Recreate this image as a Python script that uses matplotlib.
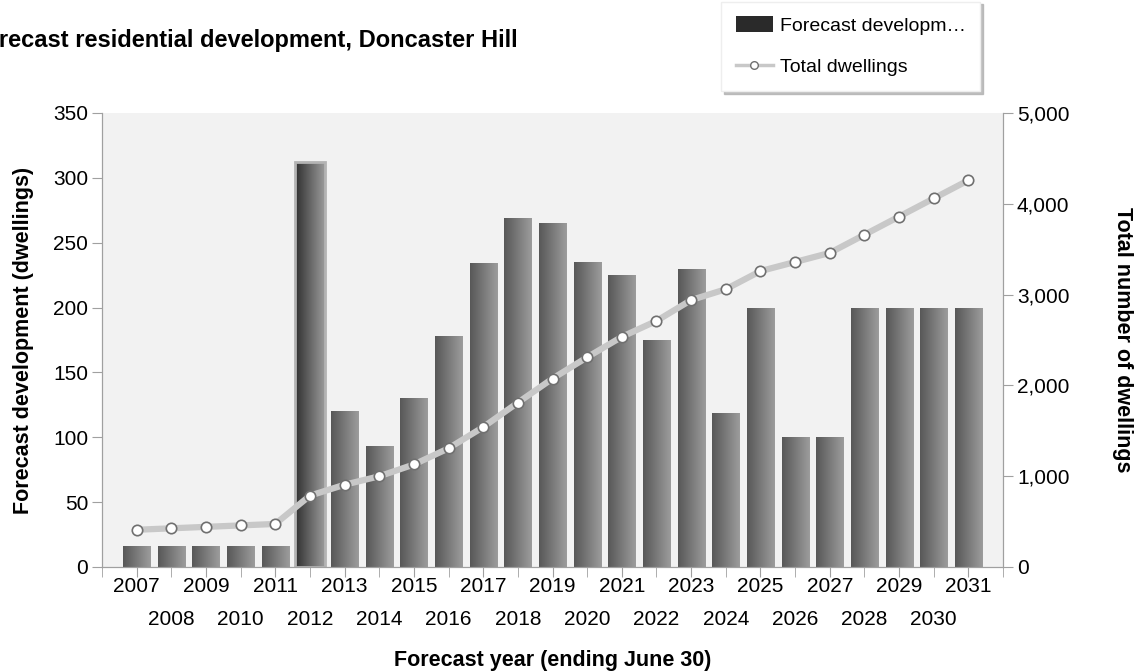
import matplotlib
matplotlib.use("Agg")
import matplotlib.pyplot as plt
import numpy as np
from matplotlib.lines import Line2D
from matplotlib.patches import Patch
from matplotlib.ticker import FuncFormatter
from matplotlib.colors import LinearSegmentedColormap

plt.rcParams['font.family'] = ['Liberation Sans', 'DejaVu Sans']

# Dados
years = list(range(2007, 2032))
development = [16, 16, 16, 16, 16, 312, 120, 93, 130, 178, 234, 269, 265,
               235, 225, 175, 230, 119, 200, 100, 100, 200, 200, 200, 200]
total_dwellings = [410, 426, 442, 458, 474, 786, 906, 999, 1129, 1307, 1541,
                   1810, 2075, 2310, 2535, 2710, 2940, 3059, 3259, 3359, 3459,
                   3659, 3859, 4059, 4259]
highlight_year = 2012

fig = plt.figure(figsize=(11.35, 6.71), dpi=100)
ax = fig.add_axes([0.0899, 0.155, 0.7938, 0.6766])
ax.set_facecolor('#f2f2f2')

x = np.arange(len(years))
bars = ax.bar(x, development, width=0.78, color='none', edgecolor='none', zorder=2)

# gradiente horizontal nas barras
grad = np.linspace(0, 1, 64).reshape(1, -1)
cmap_norm = LinearSegmentedColormap.from_list('g1', ['#585858', '#9c9c9c'])
cmap_hi = LinearSegmentedColormap.from_list('g2', ['#303030', '#9a9a9a'])

for xi, yr, b in zip(x, years, bars):
    h = b.get_height()
    if yr == highlight_year:
        b.set_width(0.86)
        b.set_x(xi - 0.43)
        b.set_edgecolor('#b4b4b4')
        b.set_linewidth(2)
        cm = cmap_hi
    else:
        cm = cmap_norm
    x0 = b.get_x()
    im = ax.imshow(grad, extent=[x0, x0 + b.get_width(), 0, h], aspect='auto',
                   cmap=cm, zorder=1.5, interpolation='bilinear')
    im.set_clip_path(b)

ax.set_xlim(-1, len(years))
ax.set_ylim(0, 350)
ax.set_yticks(range(0, 351, 50))

# rótulos alternados em duas linhas
even_idx = [i for i in x if i % 2 == 0]
odd_idx = [i for i in x if i % 2 == 1]
ax.set_xticks(even_idx)
ax.set_xticklabels([str(years[i]) for i in even_idx])
ax.set_xticks(odd_idx + [-1, len(years)], minor=True)
ax.set_xticklabels([str(years[i]) for i in odd_idx] + ['', ''], minor=True)

ax.spines['top'].set_visible(False)
for s in ['left', 'bottom', 'right']:
    ax.spines[s].set_color('#a0a0a0')

ax.tick_params(axis='both', which='both', colors='#a0a0a0', labelcolor='black',
               labelsize=15, length=7, direction='out')
ax.tick_params(axis='x', which='major', pad=0)
ax.tick_params(axis='x', which='minor', pad=24)
ax.tick_params(axis='y', pad=3)
ax.set_ylabel('Forecast development (dwellings)', fontsize=15.5, fontweight='bold', labelpad=14)
ax.set_xlabel('Forecast year (ending June 30)', fontsize=15.5, fontweight='bold', labelpad=15)

ax2 = ax.twinx()
ax2.plot(x, total_dwellings, color='#c8c8c8', linewidth=4.5, marker='o',
         markersize=7.5, markerfacecolor='white', markeredgecolor='#707070',
         markeredgewidth=1.2, zorder=3)
ax2.set_ylim(0, 5000)
ax2.set_yticks(range(0, 5001, 1000))
ax2.yaxis.set_major_formatter(FuncFormatter(lambda v, p: f'{int(v):,}'))
ax2.spines['top'].set_visible(False)
for s in ['left', 'bottom', 'right']:
    ax2.spines[s].set_color('#a0a0a0')
ax2.tick_params(axis='y', colors='#a0a0a0', labelcolor='black', labelsize=15, length=7, pad=3)
ax2.set_ylabel('Total number of dwellings', fontsize=15.5, fontweight='bold',
               rotation=-90, labelpad=46)

# Título (cortado à esquerda como no original)
fig.text(-0.026, 0.94, 'Forecast residential development, Doncaster Hill',
         fontsize=17, fontweight='bold', ha='left', va='center')

handles = [Patch(facecolor='#2a2a2a', edgecolor='none'),
           Line2D([0], [0], color='#c8c8c8', linewidth=2.5, marker='o', markersize=5.5,
                  markerfacecolor='white', markeredgecolor='#707070')]
leg = fig.legend(handles, ['Forecast developm\u2026', 'Total dwellings'],
                 loc='upper left', bbox_to_anchor=(0.627, 1.012), frameon=True,
                 fancybox=False, shadow={'color': '#b0b0b0', 'alpha': 0.8},
                 fontsize=14, handlelength=1.9, handleheight=0.9,
                 borderpad=0.75, labelspacing=1.15, handletextpad=0.35,
                 edgecolor='#eeeeee')
leg.get_frame().set_facecolor('white')

fig.savefig('out.png', dpi=100)
